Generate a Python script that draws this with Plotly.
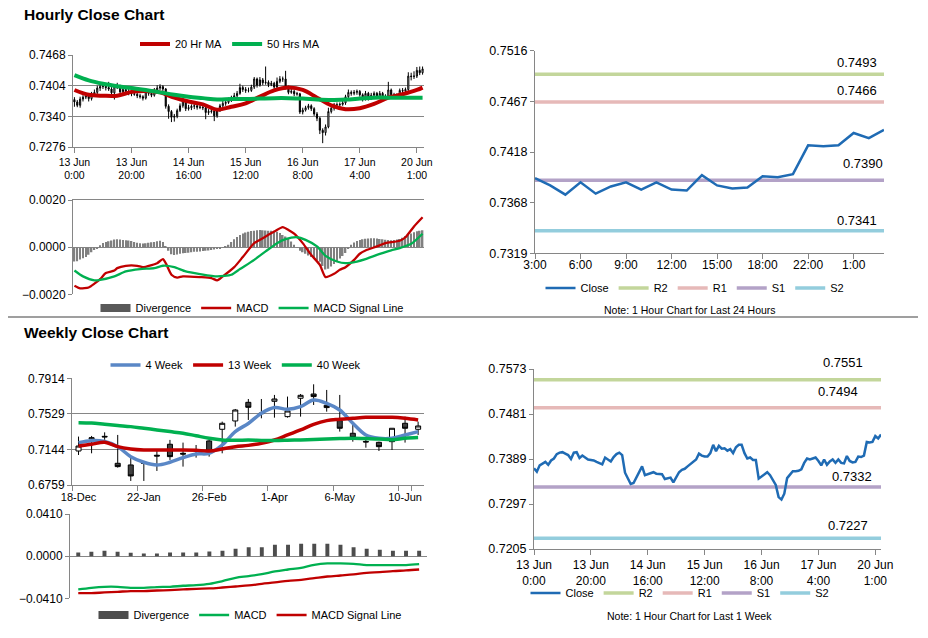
import plotly.graph_objects as go

W, H = 928, 638

# ---------------- data: hourly (last 1 week) ----------------
hr_ticktext = ["13 Jun<br>0:00", "13 Jun<br>20:00", "14 Jun<br>16:00", "15 Jun<br>12:00",
               "16 Jun<br>8:00", "17 Jun<br>4:00", "20 Jun<br>1:00"]
hr_tickpos = [0, 20, 40, 60, 80, 100, 120]

hr_close = [0.7370, 0.7363, 0.7376, 0.7380, 0.7383, 0.7377, 0.7386, 0.7390, 0.7399, 0.7402,
            0.7403, 0.7400, 0.7397, 0.7389, 0.7402, 0.7403, 0.7391, 0.7396, 0.7392, 0.7388,
            0.7387, 0.7386, 0.7383, 0.7381, 0.7378, 0.7392, 0.7388, 0.7384, 0.7393, 0.7399,
            0.7402, 0.7397, 0.7361, 0.7350, 0.7338, 0.7340, 0.7352, 0.7362, 0.7374, 0.7356,
            0.7358, 0.7361, 0.7362, 0.7359, 0.7359, 0.7358, 0.7348, 0.7350, 0.7351, 0.7341,
            0.7352, 0.7362, 0.7367, 0.7369, 0.7374, 0.7379, 0.7383, 0.7388, 0.7400, 0.7396,
            0.7394, 0.7394, 0.7401, 0.7418, 0.7405, 0.7416, 0.7410, 0.7411, 0.7406, 0.7409,
            0.7401, 0.7413, 0.7418, 0.7418, 0.7401, 0.7390, 0.7392, 0.7387, 0.7387, 0.7349,
            0.7353, 0.7358, 0.7362, 0.7356, 0.7345, 0.7336, 0.7311, 0.7306, 0.7318, 0.7350,
            0.7357, 0.7364, 0.7364, 0.7365, 0.7368, 0.7381, 0.7390, 0.7388, 0.7390, 0.7392,
            0.7385, 0.7376, 0.7388, 0.7377, 0.7384, 0.7388, 0.7381, 0.7388, 0.7381, 0.7380,
            0.7395, 0.7385, 0.7382, 0.7383, 0.7394, 0.7393, 0.7396, 0.7424, 0.7423, 0.7424,
            0.7436, 0.7431, 0.7439]

hr_open = [0.7375, 0.7370, 0.7363, 0.7376, 0.7380, 0.7383, 0.7377, 0.7386, 0.7390, 0.7399,
           0.7402, 0.7403, 0.7400, 0.7397, 0.7389, 0.7402, 0.7403, 0.7391, 0.7396, 0.7392,
           0.7388, 0.7387, 0.7386, 0.7383, 0.7381, 0.7378, 0.7392, 0.7388, 0.7384, 0.7393,
           0.7399, 0.7402, 0.7397, 0.7361, 0.7350, 0.7338, 0.7340, 0.7352, 0.7362, 0.7374,
           0.7356, 0.7358, 0.7361, 0.7362, 0.7359, 0.7359, 0.7358, 0.7348, 0.7350, 0.7351,
           0.7341, 0.7352, 0.7362, 0.7367, 0.7369, 0.7374, 0.7379, 0.7383, 0.7388, 0.7400,
           0.7396, 0.7394, 0.7394, 0.7401, 0.7418, 0.7405, 0.7416, 0.7410, 0.7411, 0.7406,
           0.7409, 0.7401, 0.7413, 0.7418, 0.7418, 0.7401, 0.7390, 0.7392, 0.7387, 0.7387,
           0.7349, 0.7353, 0.7358, 0.7362, 0.7356, 0.7345, 0.7336, 0.7311, 0.7306, 0.7318,
           0.7350, 0.7357, 0.7364, 0.7364, 0.7365, 0.7368, 0.7381, 0.7390, 0.7388, 0.7390,
           0.7392, 0.7385, 0.7376, 0.7388, 0.7377, 0.7384, 0.7388, 0.7381, 0.7388, 0.7381,
           0.7380, 0.7395, 0.7385, 0.7382, 0.7383, 0.7394, 0.7393, 0.7396, 0.7424, 0.7423,
           0.7424, 0.7436, 0.7431]

hr_high = [0.7380, 0.7374, 0.7381, 0.7384, 0.7389, 0.7386, 0.7391, 0.7396, 0.7404, 0.7406,
           0.7409, 0.7407, 0.7412, 0.7401, 0.7407, 0.7410, 0.7406, 0.7401, 0.7399, 0.7397,
           0.7392, 0.7393, 0.7389, 0.7387, 0.7384, 0.7397, 0.7396, 0.7391, 0.7399, 0.7405,
           0.7407, 0.7405, 0.7399, 0.7365, 0.7353, 0.7345, 0.7356, 0.7367, 0.7378, 0.7376,
           0.7364, 0.7365, 0.7367, 0.7365, 0.7364, 0.7363, 0.7361, 0.7355, 0.7355, 0.7354,
           0.7357, 0.7366, 0.7372, 0.7373, 0.7379, 0.7383, 0.7389, 0.7393, 0.7408, 0.7404,
           0.7401, 0.7400, 0.7406, 0.7422, 0.7421, 0.7422, 0.7420, 0.7444, 0.7415, 0.7414,
           0.7412, 0.7421, 0.7424, 0.7423, 0.7435, 0.7404, 0.7397, 0.7395, 0.7391, 0.7389,
           0.7358, 0.7362, 0.7366, 0.7365, 0.7359, 0.7349, 0.7339, 0.7315, 0.7323, 0.7358,
           0.7362, 0.7368, 0.7369, 0.7369, 0.7373, 0.7385, 0.7396, 0.7394, 0.7395, 0.7396,
           0.7395, 0.7388, 0.7393, 0.7391, 0.7389, 0.7392, 0.7391, 0.7393, 0.7391, 0.7386,
           0.7412, 0.7398, 0.7389, 0.7388, 0.7398, 0.7399, 0.7400, 0.7432, 0.7431, 0.7434,
           0.7443, 0.7444, 0.7444]

hr_low = [0.7360, 0.7359, 0.7358, 0.7371, 0.7376, 0.7371, 0.7373, 0.7381, 0.7386, 0.7393,
          0.7397, 0.7394, 0.7393, 0.7384, 0.7375, 0.7397, 0.7387, 0.7388, 0.7387, 0.7384,
          0.7382, 0.7383, 0.7378, 0.7377, 0.7373, 0.7375, 0.7383, 0.7380, 0.7381, 0.7389,
          0.7395, 0.7392, 0.7356, 0.7335, 0.7328, 0.7329, 0.7336, 0.7349, 0.7358, 0.7351,
          0.7352, 0.7353, 0.7355, 0.7354, 0.7355, 0.7353, 0.7334, 0.7343, 0.7346, 0.7330,
          0.7337, 0.7349, 0.7358, 0.7362, 0.7366, 0.7370, 0.7374, 0.7379, 0.7385, 0.7391,
          0.7389, 0.7390, 0.7391, 0.7397, 0.7400, 0.7402, 0.7405, 0.7406, 0.7401, 0.7403,
          0.7396, 0.7398, 0.7409, 0.7412, 0.7396, 0.7386, 0.7387, 0.7382, 0.7383, 0.7345,
          0.7344, 0.7350, 0.7354, 0.7351, 0.7341, 0.7330, 0.7303, 0.7284, 0.7300, 0.7315,
          0.7346, 0.7352, 0.7360, 0.7359, 0.7362, 0.7364, 0.7378, 0.7383, 0.7384, 0.7385,
          0.7381, 0.7371, 0.7373, 0.7373, 0.7374, 0.7379, 0.7377, 0.7378, 0.7376, 0.7376,
          0.7377, 0.7381, 0.7377, 0.7379, 0.7379, 0.7388, 0.7389, 0.7393, 0.7415, 0.7418,
          0.7420, 0.7426, 0.7427]

# moving averages (read at sample positions)
ma_pos = [0, 5, 10, 15, 20, 25, 30, 35, 40, 45, 50, 55, 60, 65, 70, 75, 80, 85, 90, 95,
          100, 105, 110, 115, 120, 122]
ma20 = [0.7395, 0.7385, 0.7383, 0.7383, 0.7391, 0.7393, 0.7390, 0.7379, 0.7371, 0.7365,
        0.7354, 0.7360, 0.7367, 0.7381, 0.7394, 0.7400, 0.7395, 0.7379, 0.7363, 0.7355,
        0.7357, 0.7366, 0.7379, 0.7386, 0.7395, 0.7400]
ma50 = [0.7426, 0.7415, 0.7408, 0.7403, 0.7399, 0.7395, 0.7390, 0.7385, 0.7381, 0.7378,
        0.7375, 0.7376, 0.7376, 0.7377, 0.7378, 0.7378, 0.7377, 0.7375, 0.7374, 0.7375,
        0.7377, 0.7379, 0.7379, 0.7379, 0.7379, 0.7379]

# hourly MACD
hr_div = [-0.00061, -0.00060, -0.00052, -0.00047, -0.00042, -0.00032, -0.00022, -0.00012, -0.00004, 0.00008,
          0.00018, 0.00022, 0.00025, 0.00028, 0.00032, 0.00034, 0.00032, 0.00030, 0.00029, 0.00028,
          0.00026, 0.00022, 0.00019, 0.00017, 0.00016, 0.00017, 0.00019, 0.00021, 0.00022, 0.00025,
          0.00027, 0.00022, 0.00005, -0.00015, -0.00030, -0.00033, -0.00031, -0.00028, -0.00026, -0.00025,
          -0.00024, -0.00022, -0.00020, -0.00019, -0.00018, -0.00016, -0.00015, -0.00014, -0.00012, -0.00010,
          -0.00008, -0.00005, -0.00002, 0.00002, 0.00010, 0.00022, 0.00033, 0.00043, 0.00052, 0.00058,
          0.00062, 0.00065, 0.00068, 0.00070, 0.00072, 0.00073, 0.00072, 0.00071, 0.00070, 0.00070,
          0.00068, 0.00065, 0.00060, 0.00052, 0.00045, 0.00035, 0.00024, 0.00010, -0.00002, -0.00015,
          -0.00022, -0.00028, -0.00035, -0.00042, -0.00050, -0.00056, -0.00062, -0.00080, -0.00095, -0.00092,
          -0.00082, -0.00072, -0.00060, -0.00048, -0.00038, -0.00025, -0.00008, 0.00010, 0.00020, 0.00026,
          0.00030, 0.00034, 0.00036, 0.00037, 0.00038, 0.00038, 0.00037, 0.00035, 0.00033, 0.00031,
          0.00030, 0.00029, 0.00030, 0.00032, 0.00035, 0.00040, 0.00047, 0.00052, 0.00058, 0.00063,
          0.00067, 0.00070, 0.00072]
macd_pos = [0, 2, 5, 7, 9, 11, 14, 15, 18, 22, 24, 27, 29, 31, 32, 34, 36, 38, 44, 48,
            50, 52, 56, 59, 63, 66, 70, 73, 75, 77, 80, 83, 86, 88, 91, 93, 95, 98, 100, 102,
            106, 109, 114, 116, 119, 122]
macd_val = [-0.00164, -0.00175, -0.00171, -0.00155, -0.00136, -0.00110, -0.00099, -0.00089, -0.00079, -0.00079,
            -0.00085, -0.00076, -0.00068, -0.00051, -0.00068, -0.00117, -0.00129, -0.00124, -0.00127, -0.00131,
            -0.00141, -0.00124, -0.00085, -0.00042, 0.00017, 0.00038, 0.00066, 0.00085, 0.00073, 0.00057,
            0.00017, -0.00033, -0.00075, -0.00127, -0.00113, -0.00096, -0.00085, -0.00054, -0.00028, -0.00014,
            0.00003, 0.00017, 0.00027, 0.00042, 0.00088, 0.00127]
sig_pos = [0, 3, 7, 9, 14, 18, 23, 28, 31, 35, 39, 44, 50, 55, 58, 63, 67, 71, 74, 78,
           81, 85, 88, 92, 95, 99, 102, 106, 111, 114, 118, 122]
sig_val = [-0.00099, -0.00124, -0.00141, -0.00139, -0.00124, -0.00103, -0.00093, -0.00089, -0.00079, -0.00085,
           -0.00103, -0.00114, -0.00124, -0.00117, -0.00093, -0.00054, -0.00018, 0.00017, 0.00034, 0.00042,
           0.00031, 0.00003, -0.00037, -0.00061, -0.00068, -0.00061, -0.00051, -0.00033, -0.00014, -0.00004,
           0.00014, 0.00057]

# ---------------- data: last 24 hours ----------------
h24_ticktext = ["3:00", "6:00", "9:00", "12:00", "15:00", "18:00", "22:00", "1:00"]
h24_tickpos = [0, 3, 6, 9, 12, 15, 18, 21]
h24_close = [0.7392, 0.7385, 0.7376, 0.7388, 0.7377, 0.7384, 0.7388, 0.7381, 0.7388, 0.7381,
             0.7380, 0.7395, 0.7385, 0.7382, 0.7383, 0.7394, 0.7393, 0.7396, 0.7424, 0.7423,
             0.7424, 0.7436, 0.7431, 0.7439]
h24_yticks = ["0.7319", "0.7368", "0.7418", "0.7467", "0.7516"]
h24_range = [0.7319, 0.7516]

level_names = ["R2", "R1", "S1", "S2"]
level_colors = ["#C3D69B", "#E6B9B8", "#B3A2C7", "#93CDDD"]
levels_24h = [0.7493, 0.7466, 0.7390, 0.7341]
levels_1w = [0.7551, 0.7494, 0.7332, 0.7227]

w1_yticks = ["0.7205", "0.7297", "0.7389", "0.7481", "0.7573"]
w1_range = [0.7205, 0.7573]

# ---------------- data: weekly ----------------
wk_ticktext = ["18-Dec", "22-Jan", "26-Feb", "1-Apr", "6-May", "10-Jun"]
wk_tickpos = [0, 5, 10, 15, 20, 25]
wk_open = [0.7127, 0.7258, 0.7286, 0.6994, 0.6976, 0.7004, 0.7081, 0.7200, 0.7102, 0.7141,
           0.7236, 0.7362, 0.7452, 0.7654, 0.7538, 0.7665, 0.7499, 0.7698, 0.7744, 0.7622,
           0.7456, 0.7319, 0.7231, 0.7221, 0.7228, 0.7427, 0.7362]
wk_high = [0.7283, 0.7290, 0.7329, 0.7301, 0.7073, 0.7019, 0.7127, 0.7247, 0.7218, 0.7192,
           0.7247, 0.7445, 0.7582, 0.7690, 0.7690, 0.7734, 0.7716, 0.7744, 0.7849, 0.7788,
           0.7734, 0.7409, 0.7264, 0.7228, 0.7373, 0.7499, 0.7445]
wk_low = [0.7084, 0.7102, 0.7247, 0.6947, 0.6803, 0.6803, 0.6911, 0.7030, 0.6958, 0.7055,
          0.7066, 0.7102, 0.7391, 0.7463, 0.7481, 0.7488, 0.7488, 0.7499, 0.7625, 0.7553,
          0.7337, 0.7228, 0.7163, 0.7127, 0.7138, 0.7218, 0.7301]
wk_close = [0.7181, 0.7270, 0.7280, 0.6958, 0.6857, 0.6994, 0.7073, 0.7066, 0.7094, 0.7135,
            0.7127, 0.7427, 0.7571, 0.7600, 0.7532, 0.7690, 0.7560, 0.7730, 0.7716, 0.7597,
            0.7373, 0.7272, 0.7225, 0.7174, 0.7373, 0.7373, 0.7398]
wk_ma4 = [0.7218, 0.7239, 0.7229, 0.7174, 0.7066, 0.7005, 0.6976, 0.7005, 0.7055, 0.7095,
          0.7102, 0.7192, 0.7337, 0.7425, 0.7535, 0.7597, 0.7578, 0.7607, 0.7679, 0.7643,
          0.7571, 0.7427, 0.7301, 0.7265, 0.7265, 0.7301, 0.7337]
wk_ma13 = [0.7181, 0.7199, 0.7221, 0.7174, 0.7149, 0.7138, 0.7138, 0.7138, 0.7138, 0.7135,
           0.7127, 0.7149, 0.7174, 0.7188, 0.7210, 0.7246, 0.7301, 0.7355, 0.7416, 0.7456,
           0.7470, 0.7481, 0.7492, 0.7492, 0.7492, 0.7481, 0.7463]
wk_ma40 = [0.7434, 0.7430, 0.7416, 0.7403, 0.7391, 0.7373, 0.7355, 0.7337, 0.7319, 0.7292,
           0.7265, 0.7247, 0.7243, 0.7245, 0.7242, 0.7240, 0.7243, 0.7247, 0.7252, 0.7257,
           0.7261, 0.7265, 0.7261, 0.7257, 0.7250, 0.7265, 0.7272]
wk_yticks = ["0.6759", "0.7144", "0.7529", "0.7914"]
wk_range = [0.6759, 0.7914]

wk_div = [0.0036, 0.0042, 0.0052, 0.0042, 0.0032, 0.0026, 0.0026, 0.0036, 0.0036, 0.0036,
          0.0045, 0.0052, 0.0071, 0.0087, 0.0087, 0.0110, 0.0110, 0.0120, 0.0120, 0.0120,
          0.0110, 0.0087, 0.0071, 0.0062, 0.0052, 0.0052, 0.0052]
wk_macd = [-0.0324, -0.0308, -0.0298, -0.0298, -0.0308, -0.0308, -0.0301, -0.0298, -0.0288, -0.0282,
           -0.0269, -0.0243, -0.0211, -0.0194, -0.0175, -0.0149, -0.0130, -0.0113, -0.0084, -0.0071,
           -0.0071, -0.0075, -0.0087, -0.0087, -0.0087, -0.0087, -0.0078]
wk_sig = [-0.0360, -0.0360, -0.0353, -0.0347, -0.0340, -0.0340, -0.0334, -0.0330, -0.0324, -0.0318,
          -0.0314, -0.0305, -0.0295, -0.0285, -0.0269, -0.0256, -0.0240, -0.0230, -0.0214, -0.0198,
          -0.0188, -0.0178, -0.0162, -0.0156, -0.0146, -0.0139, -0.0130]

# ---------------- styles ----------------
FONT = "Liberation Sans, Arial, sans-serif"
AX = "#868686"
RED = "#C00000"
GREEN = "#00B050"
BLUE = "#5A87C6"
CLOSE = "#1F6BB4"

hr_x = list(range(len(hr_close)))
h24_x = list(range(len(h24_close)))
wk_x = list(range(len(wk_close)))


def dom(x0, x1, y0, y1):
    return [x0 / W, x1 / W], [1 - y1 / H, 1 - y0 / H]


def even_ticks(rng, labels):
    n = len(labels) - 1
    return [rng[0] + (rng[1] - rng[0]) * k / n for k in range(n + 1)]


fig = go.Figure()

# ---- Panel 1: hourly candles + MAs ----
fig.add_trace(go.Candlestick(
    x=hr_x, open=hr_open, high=hr_high, low=hr_low, close=hr_close,
    increasing=dict(line=dict(color="black", width=1), fillcolor="white"),
    decreasing=dict(line=dict(color="black", width=1), fillcolor="black"),
    showlegend=False, hoverinfo="skip", xaxis="x", yaxis="y"))
fig.add_trace(go.Scatter(x=ma_pos, y=ma20, mode="lines", name="20 Hr MA",
                         line=dict(color=RED, width=4, shape="spline"),
                         xaxis="x", yaxis="y", legend="legend"))
fig.add_trace(go.Scatter(x=ma_pos, y=ma50, mode="lines", name="50 Hrs MA",
                         line=dict(color=GREEN, width=4, shape="spline"),
                         xaxis="x", yaxis="y", legend="legend"))

# ---- Panel 2: hourly MACD ----
fig.add_trace(go.Bar(x=hr_x, y=hr_div, marker=dict(color="#808080", line=dict(width=0)),
                     width=0.55, showlegend=False, xaxis="x2", yaxis="y2"))
fig.add_trace(go.Scatter(x=[None], y=[None], mode="lines", name="Divergence",
                         line=dict(color="#595959", width=8), xaxis="x2", yaxis="y2",
                         legend="legend2"))
fig.add_trace(go.Scatter(x=macd_pos, y=macd_val, mode="lines", name="MACD",
                         line=dict(color=RED, width=2.3, shape="spline", smoothing=0.6),
                         xaxis="x2", yaxis="y2", legend="legend2"))
fig.add_trace(go.Scatter(x=sig_pos, y=sig_val, mode="lines", name="MACD Signal Line",
                         line=dict(color=GREEN, width=2.3, shape="spline", smoothing=0.6),
                         xaxis="x2", yaxis="y2", legend="legend2"))

# ---- Panel 3: last 24 hours ----
for k, (nm, col, lv) in enumerate(zip(level_names, level_colors, levels_24h)):
    fig.add_trace(go.Scatter(x=[h24_x[0], h24_x[-1]], y=[lv, lv], mode="lines", name=nm,
                             line=dict(color=col, width=3.5), xaxis="x3", yaxis="y3",
                             legend="legend3", legendrank=k + 2))
fig.add_trace(go.Scatter(x=h24_x, y=h24_close, mode="lines", name="Close",
                         line=dict(color=CLOSE, width=2.5), xaxis="x3", yaxis="y3",
                         legend="legend3", legendrank=1))

# ---- Panel 4: weekly candles + MAs ----
fig.add_trace(go.Candlestick(
    x=wk_x, open=wk_open, high=wk_high, low=wk_low, close=wk_close,
    increasing=dict(line=dict(color="black", width=1), fillcolor="white"),
    decreasing=dict(line=dict(color="black", width=1), fillcolor="#404040"),
    showlegend=False, hoverinfo="skip", xaxis="x4", yaxis="y4"))
fig.add_trace(go.Scatter(x=wk_x, y=wk_ma4, mode="lines", name="4 Week",
                         line=dict(color=BLUE, width=3.5, shape="spline"),
                         xaxis="x4", yaxis="y4", legend="legend4"))
fig.add_trace(go.Scatter(x=wk_x, y=wk_ma13, mode="lines", name="13 Week",
                         line=dict(color=RED, width=3.5, shape="spline"),
                         xaxis="x4", yaxis="y4", legend="legend4"))
fig.add_trace(go.Scatter(x=wk_x, y=wk_ma40, mode="lines", name="40 Week",
                         line=dict(color=GREEN, width=3.5, shape="spline"),
                         xaxis="x4", yaxis="y4", legend="legend4"))

# ---- Panel 5: weekly MACD ----
fig.add_trace(go.Bar(x=wk_x, y=wk_div, marker=dict(color="#4D4D4D", line=dict(width=0)),
                     width=0.3, showlegend=False, xaxis="x5", yaxis="y5"))
fig.add_trace(go.Scatter(x=[None], y=[None], mode="lines", name="Divergence",
                         line=dict(color="#4D4D4D", width=8), xaxis="x5", yaxis="y5",
                         legend="legend5"))
fig.add_trace(go.Scatter(x=wk_x, y=wk_macd, mode="lines", name="MACD",
                         line=dict(color=GREEN, width=2.3, shape="spline"),
                         xaxis="x5", yaxis="y5", legend="legend5"))
fig.add_trace(go.Scatter(x=wk_x, y=wk_sig, mode="lines", name="MACD Signal Line",
                         line=dict(color=RED, width=2.3, shape="spline"),
                         xaxis="x5", yaxis="y5", legend="legend5"))

# ---- Panel 6: last 1 week hourly close ----
for k, (nm, col, lv) in enumerate(zip(level_names, level_colors, levels_1w)):
    fig.add_trace(go.Scatter(x=[hr_x[0], hr_x[-1]], y=[lv, lv], mode="lines", name=nm,
                             line=dict(color=col, width=3.5), xaxis="x6", yaxis="y6",
                             legend="legend6", legendrank=k + 2))
fig.add_trace(go.Scatter(x=hr_x, y=hr_close, mode="lines", name="Close",
                         line=dict(color=CLOSE, width=2.5), xaxis="x6", yaxis="y6",
                         legend="legend6", legendrank=1))

# ---------------- layout ----------------
d1x, d1y = dom(73, 424, 55, 147)
d2x, d2y = dom(73, 424, 200, 294.3)
d3x, d3y = dom(535, 884, 50.7, 253.3)
d4x, d4y = dom(72, 424, 378.3, 485)
d5x, d5y = dom(70, 427, 514, 598.3)
d6x, d6y = dom(534, 881, 369, 549)

base_ax = dict(showline=True, linecolor=AX, linewidth=1, tickcolor=AX, ticklen=4,
               ticks="outside", zeroline=False, showgrid=False, fixedrange=True,
               automargin=False)


def xax(domain, anchor, rng, **kw):
    d = dict(base_ax)
    d.update(domain=domain, anchor=anchor, range=rng)
    d.update(kw)
    return d


def yax(domain, anchor, rng, **kw):
    d = dict(base_ax)
    d.update(domain=domain, anchor=anchor, range=rng)
    d.update(kw)
    return d


fig.update_layout(
    template="none",
    width=W, height=H, margin=dict(l=0, r=0, t=0, b=0, autoexpand=False),
    paper_bgcolor="white", plot_bgcolor="white",
    font=dict(family=FONT, size=12, color="black"),
    boxgap=0.45,
    xaxis=xax(d1x, "y", [-0.5, 122.5], tickmode="array", tickvals=hr_tickpos,
              ticktext=hr_ticktext, tickfont=dict(size=10.5), ticklen=5,
              rangeslider=dict(visible=False)),
    yaxis=yax(d1y, "x", [0.7276, 0.7468], tickmode="array",
              tickvals=[0.7276, 0.7340, 0.7404, 0.7468], tickformat=".4f",
              showgrid=True, gridcolor=AX, tickfont=dict(size=12)),
    xaxis2=xax(d2x, "y2", [-0.5, 122.5], side="top", ticks="", showticklabels=False),
    yaxis2=yax(d2y, "x2", [-0.002, 0.002], tickmode="array",
               tickvals=[-0.002, 0.0, 0.002], tickformat=".4f", zeroline=True,
               zerolinecolor=AX, zerolinewidth=1, tickfont=dict(size=12)),
    xaxis3=xax(d3x, "y3", [0, 23], tickmode="array", tickvals=h24_tickpos,
               ticktext=h24_ticktext, tickfont=dict(size=12), ticklen=5,
               ticklabelstandoff=-5),
    yaxis3=yax(d3y, "x3", h24_range, tickmode="array",
               tickvals=even_ticks(h24_range, h24_yticks), ticktext=h24_yticks,
               tickfont=dict(size=12.5)),
    xaxis4=xax(d4x, "y4", [-0.5, 26.45], tickmode="array", tickvals=wk_tickpos,
               ticktext=wk_ticktext, tickfont=dict(size=11), ticks="",
               ticklabelstandoff=2,
               minor=dict(tickmode="array", tickvals=[p - 0.5 for p in wk_tickpos] + [25.5],
                          ticks="outside", ticklen=5, tickcolor=AX),
               rangeslider=dict(visible=False)),
    yaxis4=yax(d4y, "x4", wk_range, tickmode="array",
               tickvals=even_ticks(wk_range, wk_yticks), ticktext=wk_yticks,
               showgrid=True, gridcolor=AX, tickfont=dict(size=12)),
    xaxis5=xax(d5x, "y5", [-0.63, 26.6], showline=False, ticks="", showticklabels=False),
    yaxis5=yax(d5y, "x5", [-0.041, 0.041], tickmode="array",
               tickvals=[-0.041, 0.0, 0.041], tickformat=".4f", showgrid=True,
               gridcolor=AX, tickfont=dict(size=12)),
    xaxis6=xax(d6x, "y6", [0, 122], tickmode="array", tickvals=hr_tickpos,
               ticktext=hr_ticktext, tickfont=dict(size=12), ticklen=5),
    yaxis6=yax(d6y, "x6", w1_range, tickmode="array",
               tickvals=even_ticks(w1_range, w1_yticks), ticktext=w1_yticks,
               tickfont=dict(size=12.5)),
)

leg_base = dict(orientation="h", xanchor="center", yanchor="middle",
                font=dict(size=11, family=FONT), bgcolor="rgba(0,0,0,0)",
                itemwidth=30, tracegroupgap=0)


def leg(xc, yc):
    d = dict(leg_base)
    d.update(x=xc / W, y=1 - yc / H)
    return d


fig.update_layout(
    legend=leg(230, 44),
    legend2=leg(252, 308),
    legend3=leg(695, 288),
    legend4=leg(236, 365),
    legend5=leg(250, 615),
    legend6=leg(680, 593),
)

ann = []
ann.append(dict(xref="paper", yref="paper", x=22 / W, y=1 - 14 / H, xanchor="left",
                yanchor="middle", text="<b>Hourly Close Chart</b>", showarrow=False,
                font=dict(size=15.5, family=FONT)))
ann.append(dict(xref="paper", yref="paper", x=22 / W, y=1 - 332 / H, xanchor="left",
                yanchor="middle", text="<b>Weekly Close Chart</b>", showarrow=False,
                font=dict(size=15.5, family=FONT)))
ann.append(dict(xref="paper", yref="paper", x=690 / W, y=1 - 310 / H, xanchor="center",
                yanchor="middle", text="Note: 1 Hour Chart for Last 24 Hours", showarrow=False,
                font=dict(size=10.5, family=FONT)))
ann.append(dict(xref="paper", yref="paper", x=689 / W, y=1 - 616 / H, xanchor="center",
                yanchor="middle", text="Note: 1 Hour Chart for Last 1 Week", showarrow=False,
                font=dict(size=10.5, family=FONT)))

lab24_x = [0.923, 0.923, 0.94, 0.923]
lab24_shift = [11.6, 11.7, 17, 10]
for lv, lx, sh in zip(levels_24h, lab24_x, lab24_shift):
    ann.append(dict(xref="x3 domain", yref="y3", x=lx, y=lv, yshift=sh, text=f"{lv:.4f}",
                    showarrow=False, xanchor="center", yanchor="middle",
                    font=dict(size=13, family=FONT)))
lab1w_x = [0.89, 0.876, 0.916, 0.905]
lab1w_shift = [17.7, 16.3, 10, 12.7]
for lv, lx, sh in zip(levels_1w, lab1w_x, lab1w_shift):
    ann.append(dict(xref="x6 domain", yref="y6", x=lx, y=lv, yshift=sh, text=f"{lv:.4f}",
                    showarrow=False, xanchor="center", yanchor="middle",
                    font=dict(size=13, family=FONT)))

fig.update_layout(annotations=ann)
fig.add_shape(type="line", xref="paper", yref="paper", x0=8 / W, x1=918 / W,
              y0=1 - 317 / H, y1=1 - 317 / H, line=dict(color="#7F7F7F", width=1.5))

fig.write_html("out.html", config={"displayModeBar": False},
               post_script="document.body.style.margin='0px';document.body.style.overflow='hidden';")
